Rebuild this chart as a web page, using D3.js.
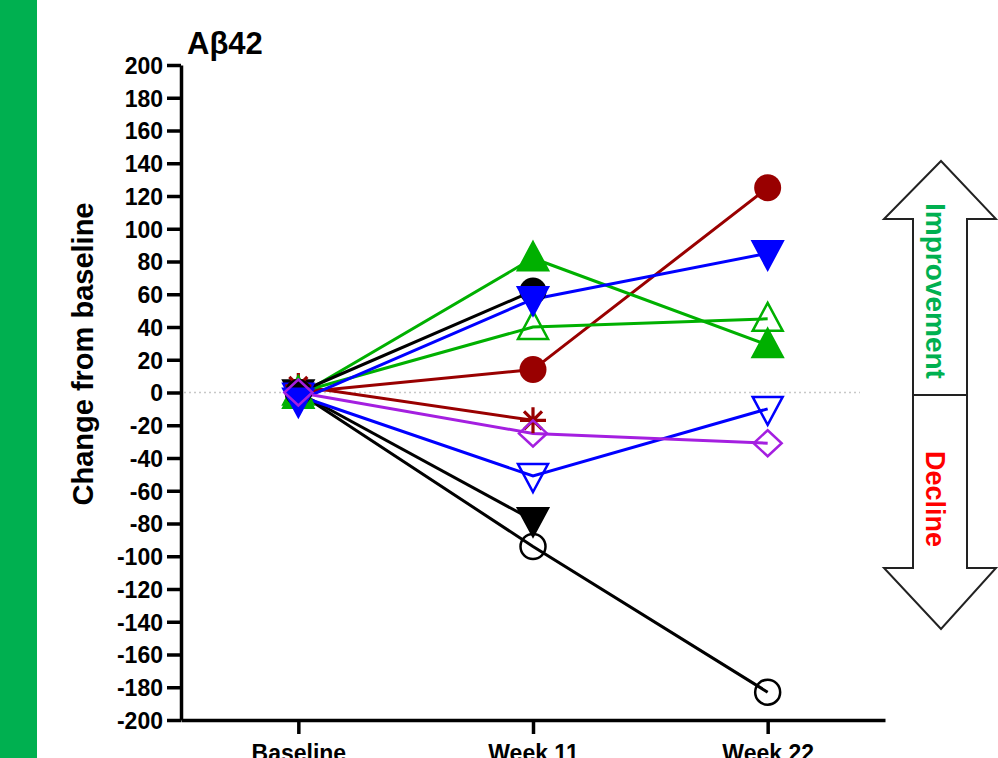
<!DOCTYPE html>
<html>
<head>
<meta charset="utf-8">
<script src="https://cdn.jsdelivr.net/npm/d3@7"></script>
<style>
  body { margin: 0; background: #fff; }
  svg { display: block; font-family: "Liberation Sans", Arial, sans-serif; }
  .axis path, .axis line { stroke: #000; stroke-width: 3.5; }
  .axis text { font-size: 23px; font-weight: bold; fill: #000; }
</style>
</head>
<body>
<svg width="998" height="758"></svg>
<script>

// data
var timepoints = ["Baseline", "Week 11", "Week 22"];
var yTicks = d3.range(-200, 201, 20);

var blackFilledCircle = [0, 62, null];
var blueFilledDown    = [-5, 57, 85];
var greenFilledUp     = [-2, 82, 29];
var greenOpenUp       = [0, 40, 45];
var redFilledCircle   = [0, 14, 125];
var redAsterisk       = [4, -17, null];
var purpleOpenDiamond = [0, -25, -31];
var blueOpenDown      = [-2, -51, -10];
var blackFilledDown   = [0, -78, null];
var blackOpenCircle   = [0, -94, -183];

var series = [
  {values: blackOpenCircle,   color: "#000000", shape: "circle",   fill: false},
  {values: blackFilledDown,   color: "#000000", shape: "down",     fill: true},
  {values: blueOpenDown,      color: "#0000ff", shape: "down",     fill: false},
  {values: redAsterisk,       color: "#990000", shape: "asterisk", fill: false},
  {values: redFilledCircle,   color: "#990000", shape: "circle",   fill: true},
  {values: greenOpenUp,       color: "#00b000", shape: "up",       fill: false},
  {values: greenFilledUp,     color: "#00b000", shape: "up",       fill: true},
  {values: blackFilledCircle, color: "#000000", shape: "circle",   fill: true},
  {values: blueFilledDown,    color: "#0000ff", shape: "down",     fill: true},
  {values: purpleOpenDiamond, color: "#a41fe0", shape: "diamond",  fill: false}
];

var svg = d3.select("svg");

// green strip on the left
svg.append("rect").attr("x", 0).attr("y", 0).attr("width", 37).attr("height", 758).attr("fill", "#00b050");

var x = d3.scalePoint().domain(timepoints).range([181, 885]).padding(0.5);
var y = d3.scaleLinear().domain([-200, 200]).range([720, 65]);

// zero reference line
svg.append("line")
    .attr("x1", 184).attr("x2", 860)
    .attr("y1", y(0)).attr("y2", y(0))
    .attr("stroke", "#c8c8c8").attr("stroke-width", 1.5)
    .attr("stroke-dasharray", "2,3");

svg.append("g")
    .attr("class", "axis")
    .attr("transform", "translate(181,0)")
    .call(d3.axisLeft(y).tickValues(yTicks).tickFormat(function(d) { return String(d); })
        .tickSize(14).tickSizeOuter(0).tickPadding(4))
    .call(function(g) { g.selectAll("text").attr("dy", "0.36em"); });

svg.append("g")
    .attr("class", "axis")
    .attr("transform", "translate(0,720)")
    .call(d3.axisBottom(x).tickSize(14).tickSizeOuter(0).tickPadding(11));

svg.append("text")
    .attr("x", 187).attr("y", 54)
    .attr("font-size", "31px").attr("font-weight", "bold")
    .text("Aβ42");

svg.append("text")
    .attr("transform", "translate(93,354) rotate(-90)")
    .attr("text-anchor", "middle")
    .attr("font-size", "29px").attr("font-weight", "bold")
    .text("Change from baseline");

// lines
var line = d3.line()
    .defined(function(d) { return d[1] != null; })
    .x(function(d) { return x(d[0]); })
    .y(function(d) { return y(d[1]); });

series.forEach(function(s) {
  var pts = s.values.map(function(v, i) { return [timepoints[i], v]; });
  svg.append("path")
      .datum(pts)
      .attr("d", line)
      .attr("fill", "none")
      .attr("stroke", s.color)
      .attr("stroke-width", 3);
});

function shapePath(shape) {
  if (shape === "up") return "M0,-16L15,12L-15,12Z";
  if (shape === "down") return "M0,16L15,-12L-15,-12Z";
  if (shape === "diamond") return "M0,-13L14,0L0,13L-14,0Z";
  if (shape === "asterisk") return "M-13,0L13,0M0,-13L0,13M-9,-9L9,9M-9,9L9,-9";
  return null;
}

// markers
series.forEach(function(s) {
  var pts = s.values.map(function(v, i) { return [timepoints[i], v]; })
      .filter(function(d) { return d[1] != null; });
  var g = svg.append("g");
  if (s.shape === "circle") {
    g.selectAll("circle").data(pts).enter().append("circle")
        .attr("cx", function(d) { return x(d[0]); })
        .attr("cy", function(d) { return y(d[1]); })
        .attr("r", s.fill ? 13.5 : 12.5)
        .attr("fill", s.fill ? s.color : "none")
        .attr("stroke", s.color)
        .attr("stroke-width", s.fill ? 0 : 2.5);
  } else {
    g.selectAll("path").data(pts).enter().append("path")
        .attr("transform", function(d) { return "translate(" + x(d[0]) + "," + y(d[1]) + ")"; })
        .attr("d", shapePath(s.shape))
        .attr("fill", s.fill ? s.color : "none")
        .attr("stroke", s.color)
        .attr("stroke-width", s.shape === "asterisk" ? 3.2 : 2.5);
  }
});

// improvement / decline arrow
var arrow = svg.append("g");
arrow.append("path")
    .attr("d", "M941,161L996,219L967,219L967,568L996,568L941,629L884,568L913,568L913,219L884,219Z")
    .attr("fill", "#fff").attr("stroke", "#222").attr("stroke-width", 2);
arrow.append("line")
    .attr("x1", 913).attr("x2", 967).attr("y1", 395).attr("y2", 395)
    .attr("stroke", "#222").attr("stroke-width", 2);
arrow.append("text")
    .attr("transform", "translate(926,291) rotate(90)")
    .attr("text-anchor", "middle")
    .attr("font-size", "28px").attr("font-weight", "bold").attr("fill", "#00b050")
    .text("Improvement");
arrow.append("text")
    .attr("transform", "translate(926,499) rotate(90)")
    .attr("text-anchor", "middle")
    .attr("font-size", "27px").attr("font-weight", "bold").attr("fill", "#ff0000")
    .text("Decline");

</script>
</body>
</html>
